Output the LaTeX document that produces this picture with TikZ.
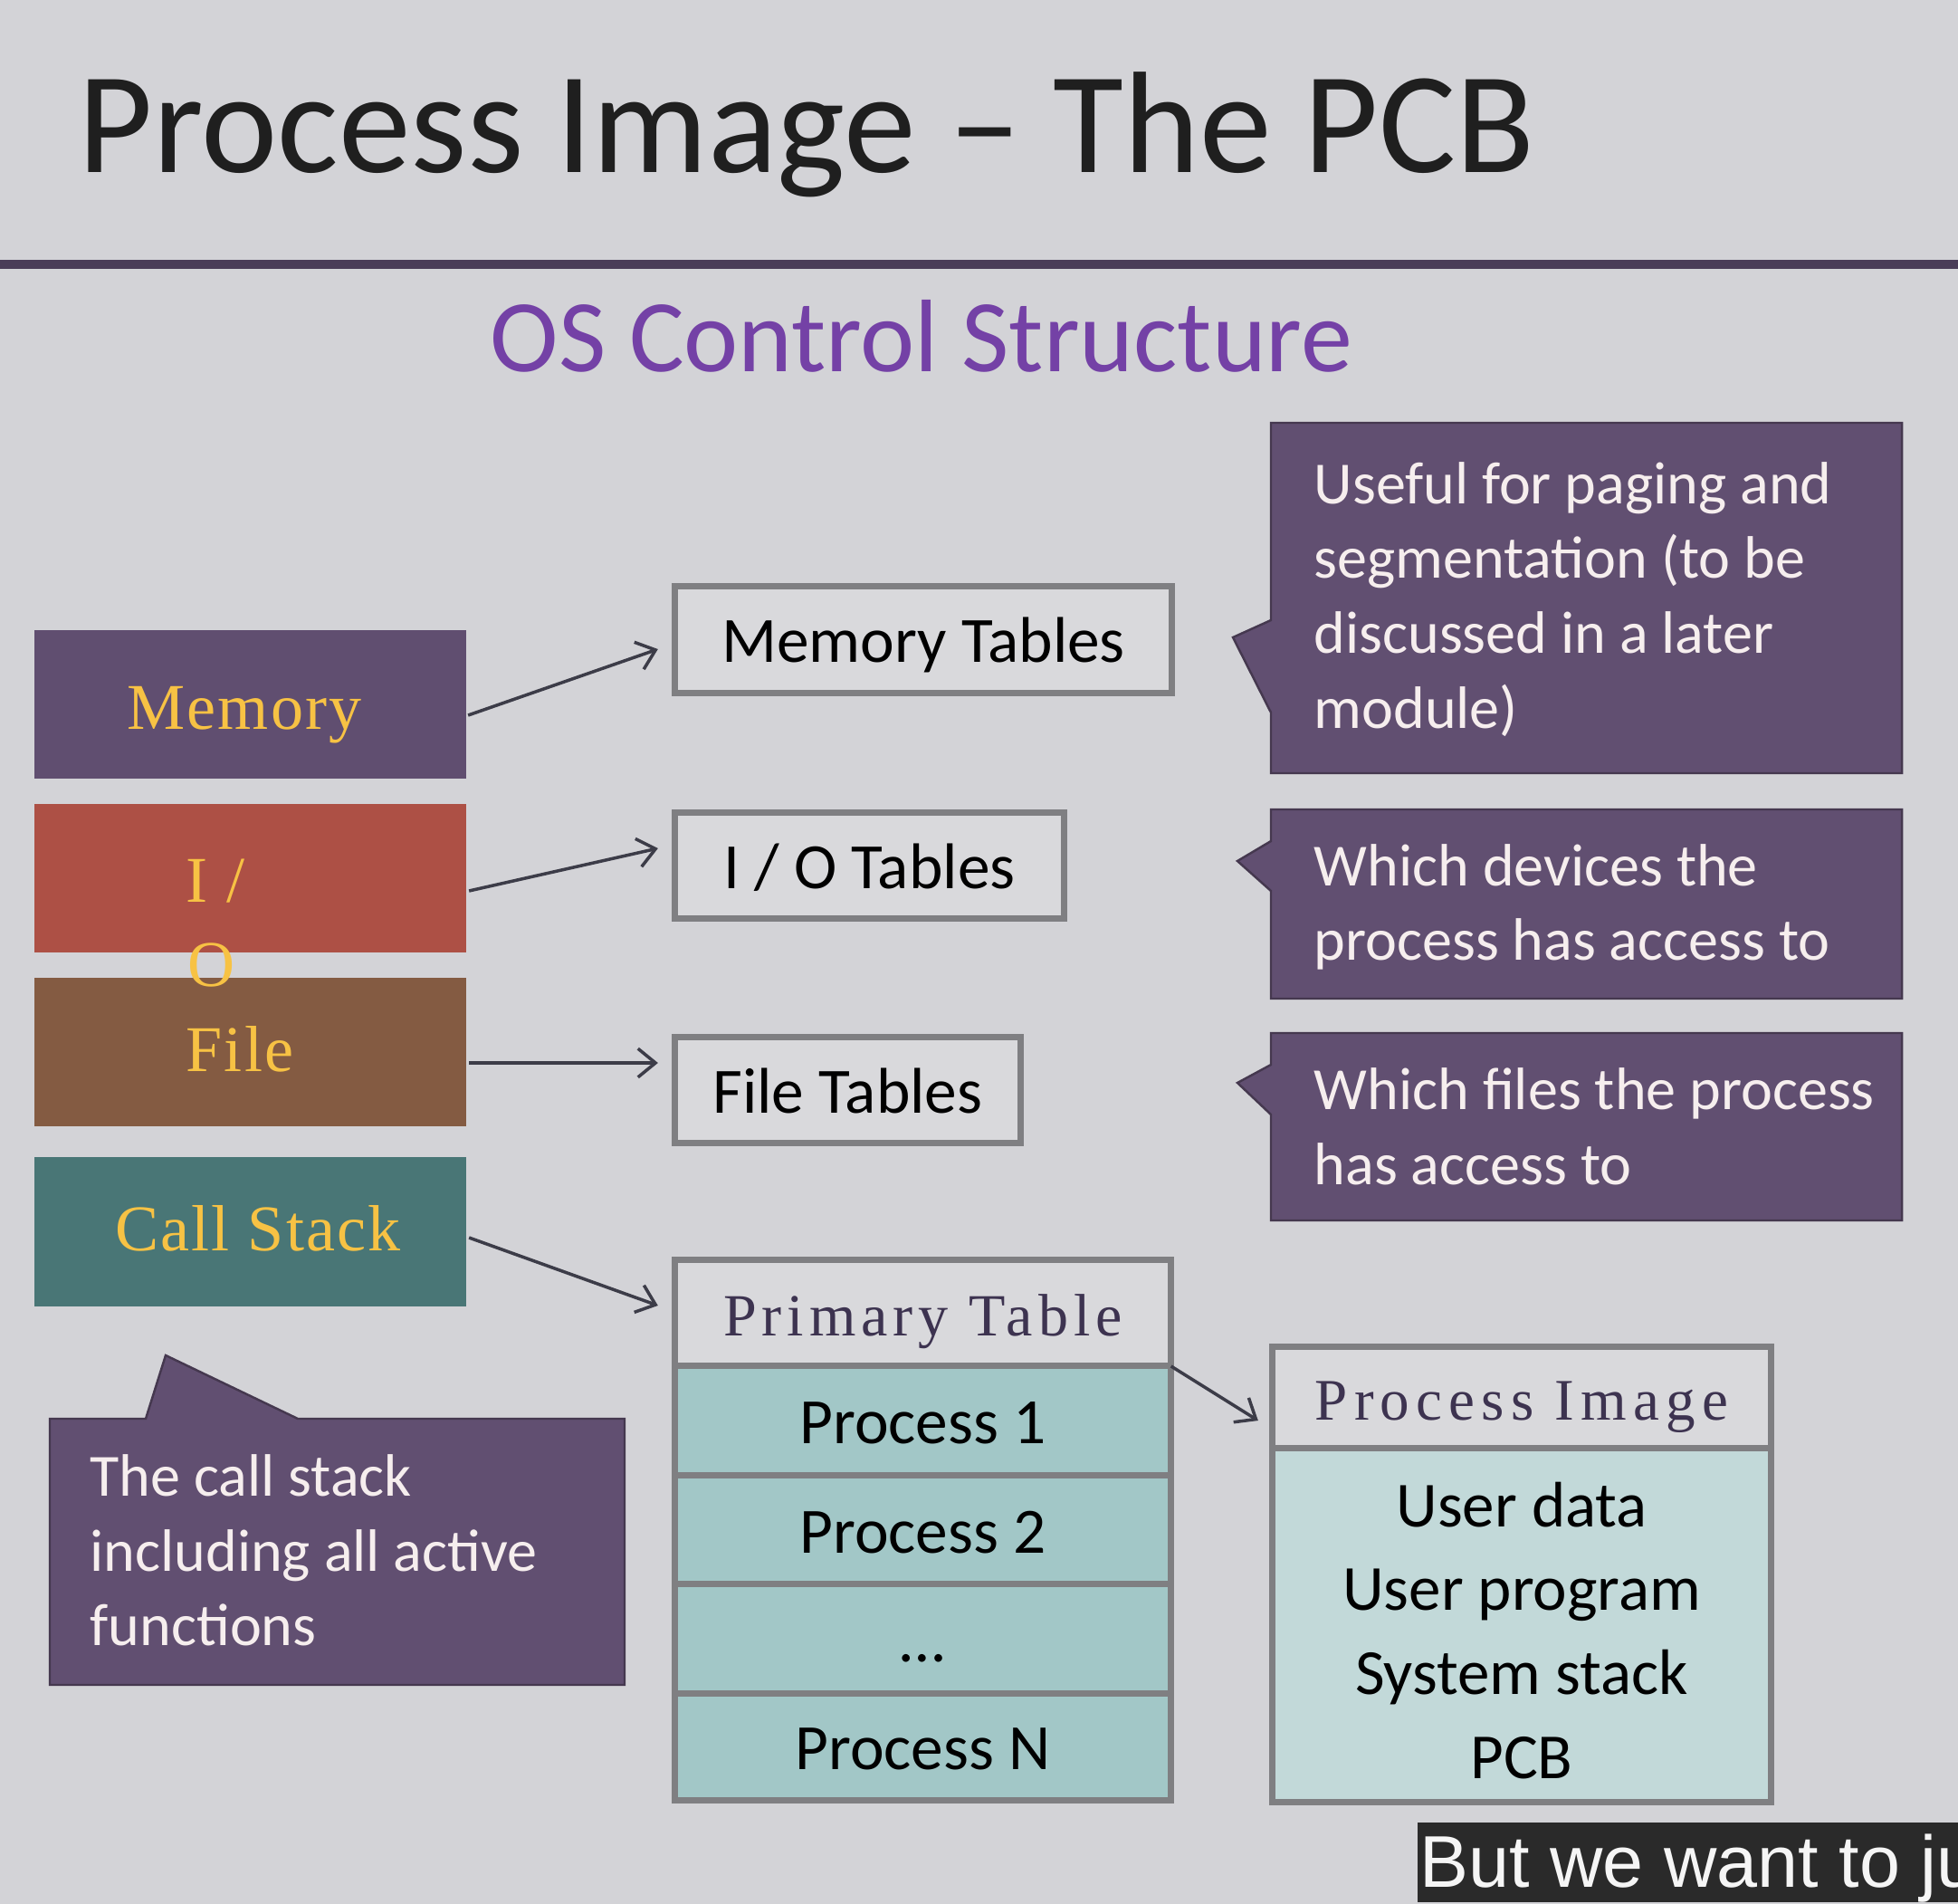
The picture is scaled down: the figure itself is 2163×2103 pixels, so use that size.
\documentclass[tikz,border=0pt]{standalone}
\usepackage{fontspec}
\setmainfont{Carlito}
\newfontfamily\labelserif[LetterSpace=3]{Liberation Serif}
\newfontfamily\headserif[LetterSpace=9]{Liberation Serif}
\newfontfamily\wideserif[LetterSpace=11]{Liberation Serif}
\newfontfamily\capsans{Liberation Sans}
\usetikzlibrary{arrows.meta,calc}

\definecolor{bgcol}{HTML}{D3D3D7}
\definecolor{rulecol}{HTML}{4A3D58}
\definecolor{ostitle}{HTML}{7441A6}
\definecolor{memcol}{HTML}{604E70}
\definecolor{iocol}{HTML}{AD5045}
\definecolor{filecol}{HTML}{845B42}
\definecolor{cscol}{HTML}{497676}
\definecolor{yellowtxt}{HTML}{F7C244}
\definecolor{calloutcol}{HTML}{614F71}
\definecolor{calloutedge}{HTML}{45384F}
\definecolor{ctext}{HTML}{F6EEEE}
\definecolor{tgray}{HTML}{7F7F82}
\definecolor{hdfill}{HTML}{D9D9DC}
\definecolor{rowteal}{HTML}{A2C7C7}
\definecolor{pibodycol}{HTML}{C2D9D9}
\definecolor{ptext}{HTML}{3D3350}
\definecolor{linkcol}{HTML}{3C3C48}
\definecolor{capbg}{HTML}{2A2A2A}

\newcommand\mytabfont{\fontsize{20.3pt}{24pt}\selectfont}
\newcommand\mycallfont{\fontsize{18.8pt}{23.6pt}\selectfont}

\tikzset{
  colbox/.style={minimum width=4.77cm, minimum height=1.64cm, inner sep=0pt, outer sep=0pt},
  yellowlbl/.style={anchor=base, inner sep=0pt, text=yellowtxt, font=\labelserif\fontsize{20.5pt}{24pt}\selectfont},
  tabbox/.style={draw=tgray, line width=2pt, fill=hdfill, inner sep=0pt, outer sep=0pt,
                 text height=0.5cm, text depth=0pt, font=\mytabfont},
  rowbox/.style={tabbox, fill=rowteal, minimum width=5.48cm},
  link/.style={draw=linkcol, line width=1pt, -{Straight Barb[length=5.5pt,width=9pt]}},
  callout/.style={fill=calloutcol, draw=calloutedge, line width=0.7pt, line join=miter},
  callouttext/.style={anchor=base west, inner sep=0pt, text=ctext, font=\mycallfont},
}

\begin{document}
\begin{tikzpicture}[x=0.01cm, y=-0.01cm]
  % page
  \fill[bgcol] (0,0) rectangle (2163,2103);
  \useasboundingbox (0,0) rectangle (2163,2103);

  % heading
  \node[anchor=base west, inner sep=0pt, text=black!88,
        font=\fontsize{45.4pt}{54pt}\selectfont] (title) at (86,191) {Process Image – The PCB};
  \draw[rulecol, line width=0.09cm] (0,292) -- (2163,292);
  \node[anchor=base west, inner sep=0pt, text=ostitle,
        font=\fontsize{32.4pt}{38pt}\selectfont] (subtitle) at (541,410) {OS Control Structure};

  % resource blocks
  \node[colbox, fill=memcol]  (mem)  at (276.5,778)    {};
  \node[colbox, fill=iocol]   (io)   at (276.5,970)    {};
  \node[colbox, fill=filecol] (file) at (276.5,1162)   {};
  \node[colbox, fill=cscol]   (cs)   at (276.5,1360.5) {};
  \node[yellowlbl] (memlbl)  at (270,805)  {Memory};
  \node[yellowlbl] (iolblA)  at (238,996)  {I /};
  \node[yellowlbl] (iolblB)  at (234,1089) {O};
  \node[yellowlbl] (filelbl) at (265,1183) {File};
  \node[yellowlbl] (cslbl)   at (285,1381) {Call Stack};

  % tables
  \node[tabbox, minimum width=5.49cm, minimum height=1.18cm] (memt)  at (1020,706.5) {Memory Tables};
  \node[tabbox, minimum width=4.30cm, minimum height=1.17cm] (iot)   at (960.5,956)  {I / O Tables};
  \node[tabbox, minimum width=3.82cm, minimum height=1.17cm] (filet) at (936.5,1204) {File Tables};

  % primary table
  \node[tabbox, minimum width=5.48cm, minimum height=1.17cm, text=ptext,
        font=\headserif\fontsize{18.8pt}{22pt}\selectfont] (pthead) at (1019.5,1450.5) {Primary Table};
  \node[rowbox, minimum height=1.21cm] (p1)    at (1019.5,1569.5) {Process 1};
  \node[rowbox, minimum height=1.20cm] (p2)    at (1019.5,1690)   {Process 2};
  \node[rowbox, minimum height=1.21cm] (pdots) at (1019.5,1810.5) {…};
  \node[rowbox, minimum height=1.17cm] (pn)    at (1019.5,1929.5) {Process N};

  % process image
  \node[tabbox, minimum width=5.51cm, minimum height=1.125cm, text=ptext,
        font=\wideserif\fontsize{18.5pt}{22pt}\selectfont] (pihead) at (1681,1543.75) {Process Image};
  \node[tabbox, fill=pibodycol, minimum width=5.51cm, minimum height=3.905cm] (pibody) at (1681,1795.25) {};
  \node[anchor=base, inner sep=0pt] (pitext) at (1681,1686)
    {\parbox[t]{5cm}{\centering\fontsize{20.2pt}{26.4pt}\selectfont User data\\User program\\System stack\\PCB}};

  % connectors
  \draw[link] ($(mem.east)+(2,12)$)  -- ($(memt.west)+(-18.5,10.5)$);
  \draw[link] ($(io.east)+(3,14)$)   -- ($(iot.west)+(-18.5,-19)$);
  \draw[link] ($(file.east)+(3,12)$) -- ($(filet.west)+(-18.5,-30)$);
  \draw[link] ($(cs.east)+(3,6.5)$)  -- ($(pthead.west)+(-18.5,-8.5)$);
  \draw[link] (p1.north east) -- ($(pihead.south west)+(-15.5,-31)$);

  % notes
  \path[callout] (1404,467) -- (2101,467) -- (2101,854) -- (1404,854) -- (1404,787)
                 -- (1362,704) -- (1404,685) -- cycle;
  \node[callouttext] (note1) at (1451,556)
    {\parbox[t]{7cm}{Useful for paging and\\segmentation (to be\\discussed in a later\\module)}};

  \path[callout] (1404,894) -- (2101,894) -- (2101,1103) -- (1404,1103) -- (1404,984)
                 -- (1367,951) -- (1404,929) -- cycle;
  \node[callouttext] (note2) at (1451,978)
    {\parbox[t]{7cm}{Which devices the\\process has access to}};

  \path[callout] (1404,1141) -- (2101,1141) -- (2101,1348) -- (1404,1348) -- (1404,1231)
                 -- (1367,1196) -- (1404,1176) -- cycle;
  \node[callouttext] (note3) at (1451,1225)
    {\parbox[t]{7cm}{Which files the process\\has access to}};

  \path[callout] (55,1567) -- (161,1567) -- (183,1497) -- (329,1567) -- (690,1567)
                 -- (690,1861) -- (55,1861) -- cycle;
  \node[callouttext] (note4) at (99,1652)
    {\parbox[t]{7cm}{The call stack\\including all active\\functions}};

  % caption strip
  \begin{scope}
    \clip (0,0) rectangle (2163,2103);
    \node[fill=capbg, anchor=north west, inner sep=0pt, minimum width=6.2cm, minimum height=0.88cm]
      (capbox) at (1565,2012) {};
    \node[anchor=base west, inner sep=0pt, text=white!96!black,
          font=\capsans\fontsize{23pt}{27pt}\selectfont] (captext) at (1568,2084) {But we want to ju};
  \end{scope}
\end{tikzpicture}
\end{document}
